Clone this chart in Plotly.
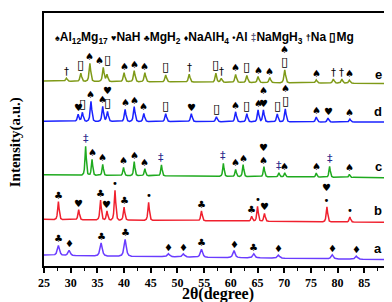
import numpy as np
import plotly.graph_objects as go

# ---------------- data ----------------
# 2-theta peak positions (degree), peak intensities (a.u., above baseline), phase labels
a_pos = [27.7, 29.7, 35.7, 40.2, 48.3, 51.1, 54.5, 60.6, 64.3, 68.9, 79.0, 83.5]
a_int = [10, 5, 13, 17, 3, 3, 8, 7, 4, 3, 4, 3]
a_lab = ["♣", "♦", "♣", "♣", "♦", "♦", "♣", "♦", "♣", "♦", "♦", "♦"]
a_base = [11, 6.5]

b_pos = [27.7, 31.5, 35.6, 36.8, 38.3, 40.0, 44.6, 54.5, 63.9, 65.0, 66.3, 78.0, 82.3]
b_int = [18, 10, 20, 9, 30, 13, 18, 10, 5, 15, 8, 15, 5]
b_lab = ["♣", "♥", "♣", "♥", "•", "♣", "•", "♣", "♣", "•", "♥", "♥<br>•", "•"]
b_base = [47, 44]

c_pos = [32.8, 34.0, 36.0, 39.9, 41.9, 43.9, 47.0, 58.6, 60.9, 62.3, 66.2, 69.0, 70.1, 76.0, 78.5, 82.2]
c_int = [29, 16, 11, 8, 14, 7, 11, 13, 7, 12, 10, 4, 4, 4, 11, 3]
c_lab = ["‡", "♠", "♠", "♠", "♠", "♠", "‡", "‡", "♠", "♠", "♥<br>♠", "‡", "♠", "♠", "‡", "♠"]
c_base = [92, 89]

d_pos = [31.4, 32.2, 33.8, 36.0, 36.9, 40.2, 41.9, 43.7, 47.8, 52.6, 57.3, 60.9, 63.0, 65.1, 66.1, 68.7, 70.2, 76.0, 78.2, 82.3]
d_int = [7, 9, 20, 15, 10, 12, 15, 8, 8, 8, 5, 10, 8, 12, 12, 8, 13, 5, 4, 3]
d_lab = ["♥", "▯", "♠", "♠", "♥<br>▯", "♠", "♠", "♠", "▯", "♥", "▯", "♠", "▯", "♠", "♠<br>♥", "▯", "♠<br>▯", "♠", "♥", "♠"]
d_base = [146, 145]

e_pos = [29.2, 31.9, 33.6, 36.1, 36.8, 40.0, 41.9, 43.9, 47.8, 52.2, 57.2, 58.2, 60.9, 63.0, 65.1, 67.3, 70.1, 76.0, 79.2, 80.8, 82.2]
e_int = [3, 8, 18, 14, 7, 9, 11, 9, 7, 8, 9, 4, 8, 7, 6, 5, 13, 3, 4, 4, 3]
e_lab = ["†", "▯", "♠", "♠▯", "", "♠", "♠", "♠", "▯", "†", "▯", "†", "♠", "▯", "♠", "♠", "♠<br>▯", "♠", "†", "†", "♠"]
e_base = [186.5, 184]

sample_names = ["a", "b", "c", "d", "e"]
x_ticks = [25, 30, 35, 40, 45, 50, 55, 60, 65, 70, 75, 80, 85, 90]

# ---------------- styles ----------------
colors = {"a": "#6a3cff", "b": "#f0202e", "c": "#1faa1f", "d": "#1a22ff", "e": "#7f9a18"}
widths = {"a": 1.7, "b": 1.1, "c": 1.0, "d": 1.2, "e": 1.2}
prof_dx = np.array([-0.7, -0.4, -0.25, -0.12, 0, 0.12, 0.25, 0.4, 0.7])
prof_f = np.array([0, 0.06, 0.2, 0.6, 1, 0.6, 0.2, 0.06, 0])
label_y = {"a": 18, "b": 56, "c": 100, "d": 156, "e": 193}
MG = "<span style='font-size:13px'>▯</span>"

series = {
    "a": (a_pos, a_int, a_lab, a_base),
    "b": (b_pos, b_int, b_lab, b_base),
    "c": (c_pos, c_int, c_lab, c_base),
    "d": (d_pos, d_int, d_lab, d_base),
    "e": (e_pos, e_int, e_lab, e_base),
}

fig = go.Figure()
annotations = []
for name in sample_names:
    pos, inten, lab, base = series[name]
    w = widths[name]
    xs = set([x_ticks[0], x_ticks[-1]])
    for p in pos:
        for dx in prof_dx:
            xs.add(round(p + dx * w, 4))
    xs = np.array(sorted(xs))
    y = np.interp(xs, [x_ticks[0], x_ticks[-1]], base)
    for p, h in zip(pos, inten):
        y = y + np.interp(xs, p + prof_dx * w, h * prof_f, left=0, right=0)
    fig.add_trace(go.Scatter(x=xs, y=y, mode="lines", line=dict(color=colors[name], width=1.5),
                             showlegend=False, hoverinfo="skip"))
    for p, h, t in zip(pos, inten, lab):
        if not t:
            continue
        b = np.interp(p, [x_ticks[0], x_ticks[-1]], base)
        col = "#2b2b8c" if "‡" in t else "black"
        annotations.append(dict(x=p, y=b + h, xref="x", yref="y", text=t.replace("▯", MG),
                                showarrow=False, yanchor="bottom", yshift=0, borderpad=0,
                                font=dict(size=10 if "‡" not in t else 11, color=col,
                                          family="DejaVu Sans")))
    annotations.append(dict(x=87.6, y=label_y[name], xref="x", yref="y", text=name,
                            showarrow=False, font=dict(size=13, color="black",
                                                       family="Liberation Sans", weight="bold")))

sym = "<span style='font-size:9px'>%s</span>"
legend_text = (sym % "♠" + "Al<sub>12</sub>Mg<sub>17</sub> " + sym % "♥" + "NaH " +
               sym % "♣" + "MgH<sub>2</sub> " + sym % "♦" + "NaAlH<sub>4</sub> " +
               sym % "•" + "Al " + "<span style='font-size:10px;color:#555577'>‡</span>" +
               "NaMgH<sub>3</sub> " + sym % "†" + "Na " + "<span style='font-size:12px'>▯</span>" + "Mg")
annotations.append(dict(x=0.463, y=0.941, xref="paper", yref="paper", text=legend_text,
                        showarrow=False, font=dict(size=12, color="black",
                                                   family="Liberation Sans", weight="bold")))
annotations.append(dict(x=0.5, y=-0.109, xref="paper", yref="paper", text="2θ(degree)",
                        showarrow=False, yanchor="middle", borderpad=0,
                        font=dict(family="Liberation Serif", size=16, color="black", weight="bold")))
annotations.append(dict(x=-0.083, y=0.49, xref="paper", yref="paper", text="Intensity(a.u.)",
                        showarrow=False, textangle=-90, xanchor="center",
                        font=dict(family="Liberation Serif", size=15, color="black", weight="bold")))

fig.update_layout(
    width=392, height=302,
    margin=dict(l=36, r=7, t=3, b=44),
    paper_bgcolor="white", plot_bgcolor="white",
    annotations=annotations,
    xaxis=dict(range=[25, 90], tickvals=x_ticks, ticks="outside", ticklen=5, tickwidth=1.5,
               tickcolor="black", showline=True, mirror=True, linewidth=1.5, linecolor="black",
               showgrid=False, zeroline=False,
               minor=dict(dtick=2.5, ticks="outside", ticklen=3, tickwidth=1.2, tickcolor="black",
                          showgrid=False),
               tickfont=dict(family="Liberation Serif", size=12, color="black", weight="bold")),
    yaxis=dict(range=[0, 255], showticklabels=False, ticks="", showline=True, mirror=True,
               linewidth=1.5, linecolor="black", showgrid=False, zeroline=False),
)

fig.write_html("out.html")
